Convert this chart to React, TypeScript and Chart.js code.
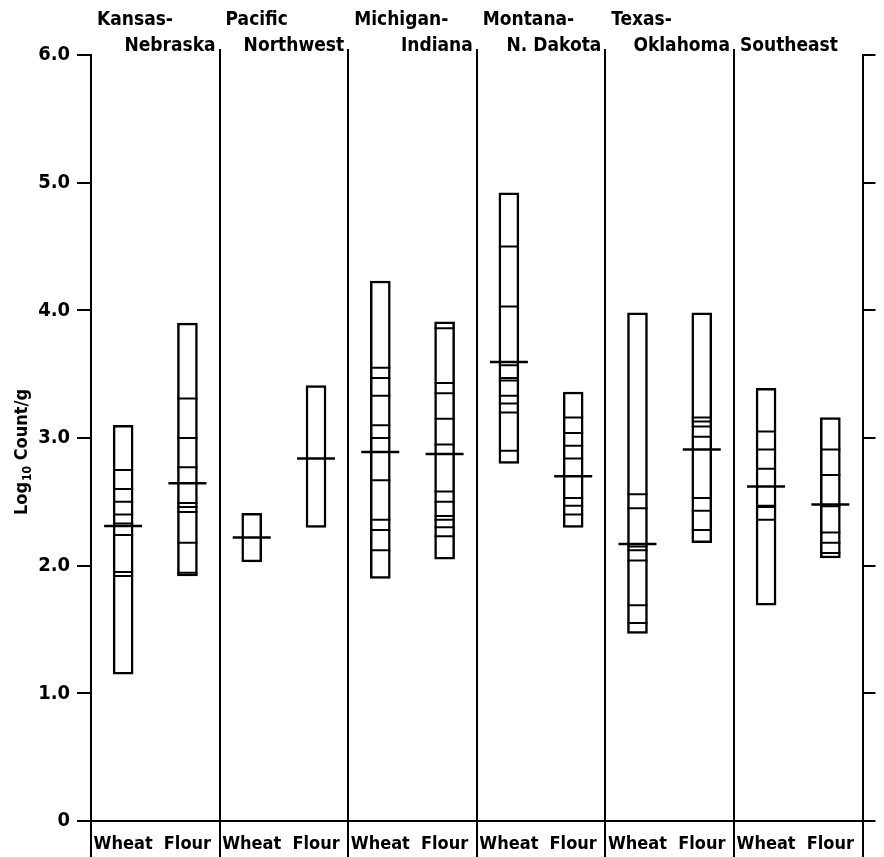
import React, { useEffect, useRef } from 'react';
import { Chart, registerables } from 'chart.js';

Chart.register(...registerables);

const FONT = "'DejaVu Sans Condensed', 'Liberation Sans Narrow', 'DejaVu Sans', sans-serif";

// Bar categories (two per region)
const categories = ['Wheat', 'Flour', 'Wheat', 'Flour', 'Wheat', 'Flour', 'Wheat', 'Flour', 'Wheat', 'Flour', 'Wheat', 'Flour'];

// Region headings (first line / second line)
const regionTop = ['Kansas-', 'Pacific', 'Michigan-', 'Montana-', 'Texas-', ''];
const regionBottom = ['Nebraska', 'Northwest', 'Indiana', 'N. Dakota', 'Oklahoma', 'Southeast'];

// Y-axis title pieces: "Log" + subscript "10" + " Count/g"
const yTitleMain = 'Log';
const yTitleSub = '10';
const yTitleRest = ' Count/g';

// Range of each bar (log10 count/g)
const lows = [1.15, 1.92, 2.03, 2.30, 1.90, 2.05, 2.80, 2.30, 1.47, 2.18, 1.69, 2.06];
const highs = [3.10, 3.90, 2.41, 3.41, 4.23, 3.91, 4.92, 3.36, 3.98, 3.98, 3.39, 3.16];

// Mean of each bar
const means = [2.31, 2.645, 2.22, 2.84, 2.89, 2.875, 3.595, 2.70, 2.17, 2.91, 2.62, 2.48];

// Individual sample values marked inside each bar
const samples: number[][] = [
  [2.75, 2.60, 2.50, 2.40, 2.33, 2.24, 1.95, 1.92],
  [3.31, 3.00, 2.77, 2.49, 2.46, 2.42, 2.18, 1.945],
  [],
  [],
  [3.55, 3.47, 3.33, 3.10, 3.00, 2.67, 2.36, 2.28, 2.12],
  [3.86, 3.43, 3.35, 3.15, 2.95, 2.58, 2.50, 2.39, 2.36, 2.30, 2.23],
  [4.50, 4.03, 3.57, 3.47, 3.45, 3.33, 3.27, 3.20, 2.90],
  [3.16, 3.04, 2.94, 2.84, 2.53, 2.47, 2.40],
  [2.56, 2.45, 2.15, 2.12, 2.04, 1.69, 1.55],
  [3.16, 3.13, 3.09, 3.01, 2.53, 2.43, 2.28],
  [3.05, 2.91, 2.76, 2.47, 2.46, 2.36],
  [2.91, 2.71, 2.465, 2.26, 2.18, 2.10],
];

const yTicks = [0, 1, 2, 3, 4, 5, 6];

export default function App() {
  const ref = useRef<HTMLCanvasElement>(null);

  useEffect(() => {
    const canvas = ref.current;
    if (!canvas) return;

    const structure = {
      id: 'structure',
      afterDraw(chart: any) {
        const ctx = chart.ctx as CanvasRenderingContext2D;
        const xs = chart.scales.x;
        const area = chart.chartArea;
        const n = regionBottom.length;
        ctx.save();
        ctx.strokeStyle = '#000';
        ctx.lineWidth = 2;
        for (let r = 0; r <= n; r++) {
          const x = Math.round(xs.getPixelForValue(r * 2));
          const top = r === 0 || r === n ? area.bottom : area.top - 6;
          ctx.beginPath();
          ctx.moveTo(x, top);
          ctx.lineTo(x, chart.height);
          ctx.stroke();
        }
        ctx.fillStyle = '#000';
        ctx.font = `bold 19px ${FONT}`;
        ctx.textBaseline = 'alphabetic';
        for (let r = 0; r < n; r++) {
          const left = xs.getPixelForValue(r * 2);
          const right = xs.getPixelForValue(r * 2 + 2);
          if (regionTop[r]) {
            ctx.textAlign = 'left';
            ctx.fillText(regionTop[r], left + 6, 25);
            ctx.textAlign = 'right';
            ctx.fillText(regionBottom[r], right - 4, 51);
          } else {
            ctx.textAlign = 'left';
            ctx.fillText(regionBottom[r], left + 6, 51);
          }
        }

        // Y-axis title with a real subscript
        const big = `bold 18px ${FONT}`;
        const small = `bold 12px ${FONT}`;
        ctx.font = big;
        const w1 = ctx.measureText(yTitleMain).width;
        const w3 = ctx.measureText(yTitleRest).width;
        ctx.font = small;
        const w2 = ctx.measureText(yTitleSub).width + 1;
        const total = w1 + w2 + w3;
        const cy = (area.top + area.bottom) / 2 + 14;
        ctx.translate(27, cy);
        ctx.rotate(-Math.PI / 2);
        ctx.textAlign = 'left';
        ctx.textBaseline = 'alphabetic';
        let px = -total / 2;
        ctx.font = big;
        ctx.fillText(yTitleMain, px, 0);
        px += w1;
        ctx.font = small;
        ctx.fillText(yTitleSub, px + 1, 4);
        px += w2;
        ctx.font = big;
        ctx.fillText(yTitleRest, px, 0);
        ctx.restore();
      },
    };

    const samplePoints = samples.flatMap((arr, i) => arr.map((v) => ({ x: i + 0.5, y: v })));
    const meanPoints = means.map((v, i) => ({ x: i + 0.5, y: v }));
    const rangeBars = lows.map((l, i) => ({ x: i + 0.5, y: [l, highs[i]] }));

    const chart = new Chart(canvas, {
      type: 'bar',
      data: {
        datasets: [
          {
            type: 'line',
            label: 'Mean',
            data: meanPoints,
            showLine: false,
            pointStyle: 'line',
            pointRadius: 19,
            pointHoverRadius: 19,
            pointBorderWidth: 2.5,
            pointBorderColor: '#000',
            borderColor: '#000',
            order: 0,
          } as any,
          {
            type: 'line',
            label: 'Samples',
            data: samplePoints,
            showLine: false,
            pointStyle: 'line',
            pointRadius: 10,
            pointHoverRadius: 10,
            pointBorderWidth: 2,
            pointBorderColor: '#000',
            borderColor: '#000',
            order: 1,
          } as any,
          {
            type: 'bar',
            label: 'Range',
            data: rangeBars,
            backgroundColor: '#fff',
            borderColor: '#000',
            borderWidth: 2.5,
            borderSkipped: false,
            barThickness: 20,
            order: 2,
          } as any,
        ],
      },
      options: {
        responsive: false,
        animation: false,
        layout: { padding: { top: 55, left: 0, right: 0, bottom: 0 } },
        plugins: { legend: { display: false }, tooltip: { enabled: false } },
        scales: {
          x: {
            type: 'linear',
            position: 'bottom',
            min: 0,
            max: categories.length,
            offset: false,
            grid: { display: false },
            border: { display: true, color: '#000', width: 2 },
            afterBuildTicks: (s: any) => { s.ticks = categories.map((_, i) => ({ value: i + 0.5 })); },
            ticks: {
              font: { family: FONT, size: 18, weight: 'bold' },
              color: '#000',
              padding: 5,
              maxRotation: 0,
              autoSkip: false,
              callback: (_v: any, i: number) => categories[i],
            },
            afterFit: (s: any) => { s.height = 36; },
          },
          y: {
            position: 'left',
            min: 0,
            max: 6,
            afterBuildTicks: (s: any) => { s.ticks = yTicks.map((v) => ({ value: v })); },
            ticks: {
              font: { family: FONT, size: 20, weight: 'bold' },
              color: '#000',
              padding: 7,
              callback: (v: any) => (Number(v) === 0 ? '0' : Number(v).toFixed(1)),
            },
            grid: { drawOnChartArea: false, tickLength: 14, color: '#000', lineWidth: 2 },
            border: { display: true, color: '#000', width: 2 },
            afterFit: (s: any) => { s.width = 91; },
          },
          yR: {
            position: 'right',
            min: 0,
            max: 6,
            afterBuildTicks: (s: any) => { s.ticks = yTicks.map((v) => ({ value: v })); },
            ticks: { display: false },
            grid: { drawOnChartArea: false, tickLength: 13, color: '#000', lineWidth: 2 },
            border: { display: true, color: '#000', width: 2 },
            afterFit: (s: any) => { s.width = 21; },
          },
        },
      } as any,
      plugins: [structure],
    });

    return () => chart.destroy();
  }, []);

  return (
    <div style={{ position: 'fixed', left: 0, top: 0, width: 884, height: 857, background: '#fff' }}>
      <canvas ref={ref} width={884} height={857} style={{ display: 'block', width: 884, height: 857 }} />
    </div>
  );
}
